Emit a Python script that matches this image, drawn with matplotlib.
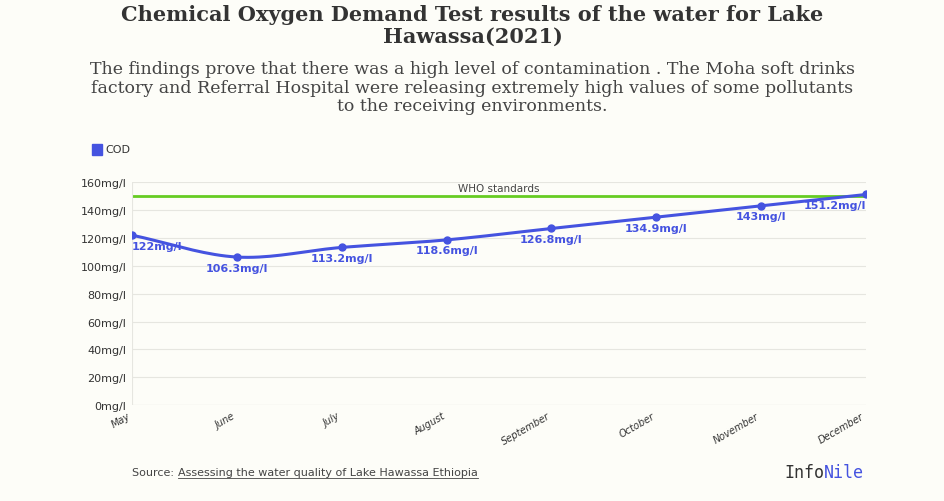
import numpy as np
import matplotlib
matplotlib.use("Agg")
import matplotlib.pyplot as plt

months = ["May", "June", "July", "August", "September", "October", "November", "December"]
cod = [122, 106.3, 113.2, 118.6, 126.8, 134.9, 143, 151.2]
labels = ["122mg/l", "106.3mg/l", "113.2mg/l", "118.6mg/l", "126.8mg/l", "134.9mg/l", "143mg/l", "151.2mg/l"]
who_standard = 150
yticks = [0, 20, 40, 60, 80, 100, 120, 140, 160]

bg = "#fdfdf8"
blue = "#4553e0"
fig = plt.figure(figsize=(9.45, 5.02), dpi=100, facecolor=bg)
ax = fig.add_axes([0.1397, 0.191, 0.7767, 0.444], facecolor=bg)

x = np.arange(len(months))
# smooth curve for display (cubic Hermite through the data points)
xs, ys = [], []
m = np.gradient(np.array(cod, dtype=float))
for i in range(len(x) - 1):
    t = np.linspace(0, 1, 20)
    h00 = 2*t**3 - 3*t**2 + 1; h10 = t**3 - 2*t**2 + t
    h01 = -2*t**3 + 3*t**2; h11 = t**3 - t**2
    xs.extend(x[i] + t)
    ys.extend(h00*cod[i] + h10*m[i] + h01*cod[i+1] + h11*m[i+1])
ax.plot(xs, ys, color=blue, lw=2.2, zorder=3)
ax.plot(x, cod, "o", color=blue, ms=5, zorder=4)
for xi, yi, lab in zip(x, cod, labels):
    ha = "left" if xi == 0 else ("right" if xi == len(x) - 1 else "center")
    ax.text(xi, yi - 4, lab, ha=ha, va="top", color=blue, fontsize=8, fontweight="bold", zorder=5)

ax.axhline(who_standard, color="#66cc22", lw=2, zorder=2)
ax.text(3.5, who_standard + 2, "WHO standards", ha="center", va="bottom", fontsize=7.5, color="#444444")

ax.set_xlim(0, len(months) - 1)
ax.set_ylim(0, 160)
ax.set_yticks(yticks)
ax.set_yticklabels([f"{v}mg/l" for v in yticks], fontsize=8, color="#333333")
ax.set_xticks(x)
ax.set_xticklabels(months, rotation=30, fontsize=7, color="#333333", style="italic", ha="right")
ax.grid(axis="y", color="#e6e6e0", lw=0.8)
ax.tick_params(length=0, pad=4)
for s in ax.spines.values():
    s.set_visible(False)
ax.axvline(0, color="#e6e6e0", lw=0.8)
ax.axhline(0, color="#e6e6e0", lw=0.8)

fig.text(0.5, 0.99, "Chemical Oxygen Demand Test results of the water for Lake\nHawassa(2021)",
         ha="center", va="top", fontsize=15, fontweight="bold", family="DejaVu Serif", color="#333333", linespacing=1.1)
fig.text(0.5, 0.878, "The findings prove that there was a high level of contamination . The Moha soft drinks\n"
         "factory and Referral Hospital were releasing extremely high values of some pollutants\nto the receiving environments.",
         ha="center", va="top", fontsize=12.5, family="DejaVu Serif", color="#444444", linespacing=1.1)

fig.patches.append(plt.Rectangle((0.097, 0.69), 0.011, 0.022, transform=fig.transFigure, color=blue, figure=fig))
fig.text(0.112, 0.701, "COD", va="center", fontsize=8, color="#333333")

fig.canvas.draw()
r = fig.canvas.get_renderer()
t1 = fig.text(0.14, 0.058, "Source: ", fontsize=8, color="#444444", va="center")
bb = t1.get_window_extent(r).transformed(fig.transFigure.inverted())
t2 = fig.text(bb.x1, 0.058, "Assessing the water quality of Lake Hawassa Ethiopia", fontsize=8,
              color="#444444", va="center")
bb2 = t2.get_window_extent(r).transformed(fig.transFigure.inverted())
fig.add_artist(plt.Line2D([bb2.x0, bb2.x1], [bb2.y0 - 0.002, bb2.y0 - 0.002], color="#444444", lw=0.6))
t3 = fig.text(0.83, 0.058, "Info", fontsize=12, family="DejaVu Sans Mono", color="#333333", va="center")
bb3 = t3.get_window_extent(r).transformed(fig.transFigure.inverted())
fig.text(bb3.x1, 0.058, "Nile", fontsize=12, family="DejaVu Sans Mono", color=blue, va="center")

fig.savefig("out.png", dpi=100, facecolor=bg)
